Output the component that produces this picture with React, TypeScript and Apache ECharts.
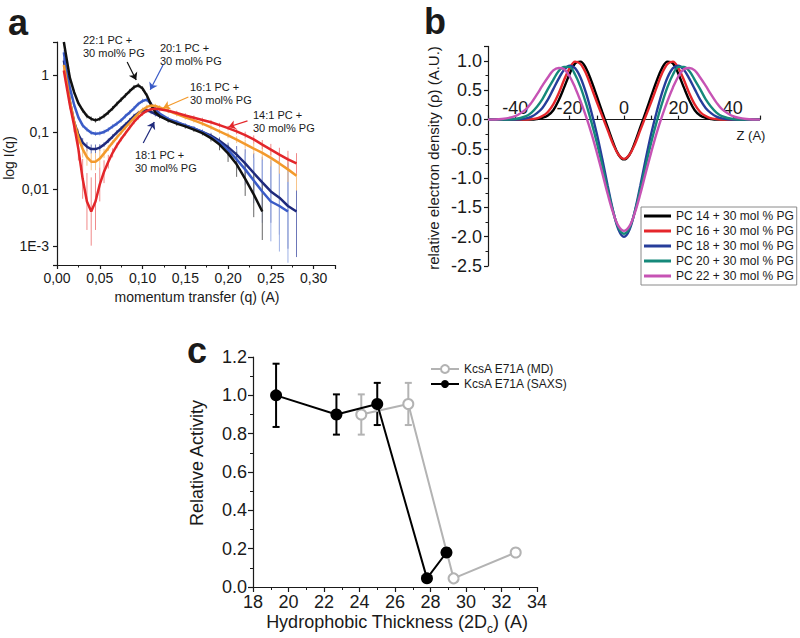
import React, { useEffect, useRef } from 'react';
import * as echarts from 'echarts';

const FONT = '"Liberation Sans", Arial, Helvetica, sans-serif';
const INK = '#1a1a1a';

// ---------- Panel a : SAXS curves ----------
const qA = [0.008, 0.01, 0.015, 0.02, 0.025, 0.03, 0.035, 0.04, 0.045, 0.05, 0.055, 0.06, 0.065, 0.07, 0.075, 0.08, 0.085, 0.09, 0.095, 0.10, 0.105, 0.11, 0.115, 0.12, 0.13, 0.14, 0.15, 0.16, 0.17, 0.18, 0.19, 0.20, 0.21, 0.22, 0.23, 0.24, 0.25, 0.26, 0.27, 0.28];
const I22 = [3.8, 2.5, 0.9, 0.5, 0.32, 0.24, 0.19, 0.17, 0.16, 0.17, 0.19, 0.22, 0.26, 0.31, 0.37, 0.44, 0.52, 0.61, 0.66, 0.58, 0.44, 0.3, 0.22, 0.19, 0.16, 0.14, 0.125, 0.11, 0.095, 0.078, 0.06, 0.042, 0.027, 0.015, 0.008, 0.004, null, null, null, null];
const I20 = [2.5, 1.5, 0.6, 0.3, 0.18, 0.13, 0.11, 0.097, 0.093, 0.095, 0.1, 0.11, 0.125, 0.14, 0.16, 0.19, 0.22, 0.26, 0.31, 0.35, 0.37, 0.31, 0.25, 0.21, 0.17, 0.15, 0.13, 0.115, 0.1, 0.082, 0.065, 0.048, 0.033, 0.022, 0.014, 0.009, 0.006, 0.005, 0.004, null];
const I18 = [1.8, 1.2, 0.35, 0.15, 0.09, 0.065, 0.055, 0.05, 0.05, 0.053, 0.06, 0.07, 0.083, 0.098, 0.115, 0.135, 0.16, 0.19, 0.215, 0.235, 0.24, 0.225, 0.205, 0.19, 0.165, 0.145, 0.13, 0.115, 0.1, 0.086, 0.07, 0.054, 0.04, 0.028, 0.019, 0.013, 0.009, 0.007, 0.005, 0.004];
const I16 = [1.5, 1.0, 0.35, 0.15, 0.08, 0.05, 0.036, 0.03, 0.03, 0.034, 0.042, 0.052, 0.065, 0.08, 0.098, 0.12, 0.145, 0.175, 0.21, 0.245, 0.275, 0.29, 0.285, 0.27, 0.235, 0.205, 0.18, 0.16, 0.14, 0.12, 0.102, 0.087, 0.073, 0.061, 0.051, 0.043, 0.035, 0.028, 0.022, 0.017];
const I14 = [1.2, 0.8, 0.3, 0.13, 0.05, 0.015, 0.006, 0.004, 0.006, 0.012, 0.02, 0.03, 0.043, 0.058, 0.075, 0.095, 0.12, 0.15, 0.18, 0.21, 0.235, 0.25, 0.255, 0.25, 0.235, 0.215, 0.195, 0.178, 0.162, 0.148, 0.132, 0.117, 0.102, 0.088, 0.074, 0.06, 0.049, 0.04, 0.033, 0.028];
// error bar half-widths in decades
const E22 = [0.04, 0.04, 0.04, 0.04, 0.04, 0.04, 0.04, 0.04, 0.04, 0.04, 0.04, 0.04, 0.04, 0.04, 0.04, 0.04, 0.04, 0.04, 0.04, 0.04, 0.04, 0.04, 0.04, 0.04, 0.04, 0.04, 0.04, 0.04, 0.04, 0.06, 0.1, 0.15, 0.22, 0.3, 0.4, 0.5, null, null, null, null];
const E20 = [0.04, 0.04, 0.04, 0.04, 0.04, 0.04, 0.04, 0.04, 0.04, 0.04, 0.04, 0.04, 0.04, 0.04, 0.04, 0.04, 0.04, 0.04, 0.04, 0.04, 0.04, 0.04, 0.04, 0.04, 0.04, 0.04, 0.04, 0.04, 0.04, 0.05, 0.06, 0.1, 0.18, 0.28, 0.4, 0.55, 0.7, 0.8, 0.9, null];
const E18 = [0.04, 0.04, 0.04, 0.04, 0.06, 0.08, 0.08, 0.08, 0.08, 0.06, 0.04, 0.04, 0.04, 0.04, 0.04, 0.04, 0.04, 0.04, 0.04, 0.04, 0.04, 0.04, 0.04, 0.04, 0.04, 0.04, 0.04, 0.04, 0.04, 0.05, 0.06, 0.08, 0.15, 0.25, 0.35, 0.45, 0.55, 0.65, 0.75, 0.8];
const E16 = [0.04, 0.04, 0.05, 0.08, 0.15, 0.15, 0.15, 0.15, 0.15, 0.15, 0.08, 0.05, 0.04, 0.04, 0.04, 0.04, 0.04, 0.04, 0.04, 0.04, 0.04, 0.04, 0.04, 0.04, 0.04, 0.04, 0.04, 0.04, 0.04, 0.04, 0.04, 0.05, 0.06, 0.08, 0.1, 0.12, 0.15, 0.18, 0.22, 0.26];
const E14 = [0.04, 0.05, 0.08, 0.12, 0.2, 0.35, 0.5, 0.6, 0.5, 0.3, 0.2, 0.12, 0.08, 0.05, 0.04, 0.04, 0.04, 0.04, 0.04, 0.04, 0.04, 0.04, 0.04, 0.04, 0.04, 0.04, 0.04, 0.04, 0.04, 0.04, 0.04, 0.04, 0.05, 0.06, 0.07, 0.08, 0.1, 0.12, 0.15, 0.18];
const yTickLabelsA = ['1E-3', '0,01', '0,1', '1']; // decades -3..0

// ---------- Panel b : electron density profiles ----------
const zB = [-50, -45, -40, -36, -34, -32, -30, -28, -26, -24, -22, -20, -18, -16, -14, -12, -10, -8, -6, -4, -2, 0, 2, 4, 6, 8, 10, 12, 14, 16, 18, 20, 22, 24, 26, 28, 30, 32, 34, 36, 40, 45, 50];
const rho14 = [0, 0, 0, 0, 0, 0.01, 0.03, 0.07, 0.16, 0.33, 0.55, 0.78, 0.96, 0.99, 0.88, 0.66, 0.40, 0.13, -0.13, -0.39, -0.60, -0.68, -0.60, -0.39, -0.13, 0.13, 0.40, 0.66, 0.88, 0.99, 0.96, 0.78, 0.55, 0.33, 0.16, 0.07, 0.03, 0.01, 0, 0, 0, 0, 0];
const rho16 = [0, 0, 0, 0, 0.01, 0.02, 0.06, 0.13, 0.26, 0.45, 0.68, 0.88, 0.99, 0.95, 0.79, 0.55, 0.30, 0.06, -0.18, -0.42, -0.60, -0.67, -0.60, -0.42, -0.18, 0.06, 0.30, 0.55, 0.79, 0.95, 0.99, 0.88, 0.68, 0.45, 0.26, 0.13, 0.06, 0.02, 0.01, 0, 0, 0, 0];
const rho18 = [0, 0, 0, 0.02, 0.05, 0.11, 0.20, 0.34, 0.52, 0.70, 0.85, 0.92, 0.88, 0.72, 0.46, 0.13, -0.24, -0.67, -1.13, -1.56, -1.88, -2.00, -1.88, -1.56, -1.13, -0.67, -0.24, 0.13, 0.46, 0.72, 0.88, 0.92, 0.85, 0.70, 0.52, 0.34, 0.20, 0.11, 0.05, 0.02, 0, 0, 0];
const rho20 = [0, 0, 0.01, 0.06, 0.12, 0.22, 0.35, 0.52, 0.68, 0.83, 0.90, 0.90, 0.77, 0.56, 0.28, -0.04, -0.39, -0.78, -1.19, -1.57, -1.85, -1.95, -1.85, -1.57, -1.19, -0.78, -0.39, -0.04, 0.28, 0.56, 0.77, 0.90, 0.90, 0.83, 0.68, 0.52, 0.35, 0.22, 0.12, 0.06, 0.01, 0, 0];
const rho22 = [0, 0.01, 0.06, 0.18, 0.29, 0.43, 0.58, 0.72, 0.84, 0.88, 0.86, 0.74, 0.55, 0.32, 0.06, -0.23, -0.56, -0.91, -1.27, -1.59, -1.82, -1.90, -1.82, -1.59, -1.27, -0.91, -0.56, -0.23, 0.06, 0.32, 0.55, 0.74, 0.86, 0.88, 0.84, 0.72, 0.58, 0.43, 0.29, 0.18, 0.06, 0.01, 0];
const namesB = ['PC 14 + 30 mol % PG', 'PC 16 + 30 mol % PG', 'PC 18 + 30 mol % PG', 'PC 20 + 30 mol % PG', 'PC 22 + 30 mol % PG'];

// ---------- Panel c : relative activity ----------
const xMD = [24.1, 26.75, 29.3, 32.8];
const yMD = [0.9, 0.955, 0.045, 0.18];
const eMD = [0.105, 0.11, 0, 0];
const xSAXS = [19.3, 22.7, 25.0, 27.8, 28.9];
const ySAXS = [1.0, 0.9, 0.955, 0.045, 0.18];
const eSAXS = [0.165, 0.105, 0.11, 0, 0.02];

const axisLineStyle = { color: INK, width: 1.2 };

// panel b geometry (y range -2.5..1.25 mapped to the grid)
const B_TOP = 46.4;
const B_HEIGHT = 219.6;
const B_YMIN = -2.5;
const B_YMAX = 1.25;

function buildOption(): any {
  const seriesA = [
    { key: '18:1', data: I18, err: E18, color: '#1f2a7c', errColor: '#6c76b8', arrow: [[0.1008, 0.064], [0.1137, 0.15]] },
    { key: '20:1', data: I20, err: E20, color: '#3a5bc7', errColor: '#9fb2e6', arrow: [[0.124, 1.5], [0.109, 0.55]] },
    { key: '22:1', data: I22, err: E22, color: '#111111', errColor: '#666666', arrow: [[0.082, 1.69], [0.0926, 0.82]] },
    { key: '16:1', data: I16, err: E16, color: '#f39a2c', errColor: '#f7c48a', arrow: [[0.1536, 0.41], [0.124, 0.264]] },
    { key: '14:1', data: I14, err: E14, color: '#e3262a', errColor: '#f08a8a', arrow: [[0.2227, 0.156], [0.2005, 0.122]] },
  ];

  const series: any[] = [];
  seriesA.forEach((s) => {
    const bars: any[] = [];
    qA.forEach((q, i) => {
      const v = s.data[i];
      const e = s.err[i];
      if (v == null || e == null) return;
      const f = Math.pow(10, e);
      bars.push([q, v / f, v * f]);
    });
    series.push({
      type: 'custom', xAxisIndex: 0, yAxisIndex: 0, clip: true, silent: true, z: 1,
      data: bars, encode: { x: 0, y: [1, 2] },
      renderItem: (_p: any, api: any) => {
        const a = api.coord([api.value(0), api.value(1)]);
        const b = api.coord([api.value(0), api.value(2)]);
        return { type: 'line', shape: { x1: a[0], y1: a[1], x2: b[0], y2: b[1] }, style: { stroke: s.errColor, lineWidth: 1 } };
      },
    });
  });
  seriesA.forEach((s) => {
    const pts: any[] = [];
    qA.forEach((q, i) => { if (s.data[i] != null) pts.push([q, s.data[i]]); });
    series.push({
      type: 'line', name: s.key, xAxisIndex: 0, yAxisIndex: 0, data: pts, symbol: 'none', z: 3,
      lineStyle: { color: s.color, width: 2.5 }, itemStyle: { color: s.color },
      markLine: {
        silent: true, symbol: ['none', 'arrow'], symbolSize: 7, label: { show: false },
        lineStyle: { color: s.color, width: 1.2, type: 'solid' },
        data: [[{ coord: s.arrow[0] }, { coord: s.arrow[1] }]],
      },
    });
  });

  const colorsB = ['#000000', '#e5262b', '#263d9a', '#15897a', '#c653b4'];
  [rho14, rho16, rho18, rho20, rho22].forEach((arr, k) => {
    series.push({
      type: 'line', name: namesB[k], xAxisIndex: 1, yAxisIndex: 1, symbol: 'none', smooth: 0.35,
      data: zB.map((z, i) => [z, arr[i]]),
      lineStyle: { color: colorsB[k], width: 2.4 }, itemStyle: { color: colorsB[k] },
    });
  });

  const errC = (xs: number[], ys: number[], es: number[], color: string) => ({
    type: 'custom', xAxisIndex: 2, yAxisIndex: 2, silent: true, z: 2,
    data: xs.map((x, i) => [x, ys[i], es[i]]).filter((d) => d[2] > 0),
    encode: { x: 0, y: 1 },
    renderItem: (_p: any, api: any) => {
      const x = api.value(0), y = api.value(1), e = api.value(2);
      const t = api.coord([x, y + e]);
      const b = api.coord([x, y - e]);
      const w = 3.5;
      const st = { stroke: color, lineWidth: 2 };
      return {
        type: 'group', children: [
          { type: 'line', shape: { x1: t[0], y1: t[1], x2: b[0], y2: b[1] }, style: st },
          { type: 'line', shape: { x1: t[0] - w, y1: t[1], x2: t[0] + w, y2: t[1] }, style: st },
          { type: 'line', shape: { x1: b[0] - w, y1: b[1], x2: b[0] + w, y2: b[1] }, style: st },
        ],
      };
    },
  });
  series.push(errC(xMD, yMD, eMD, '#b3b3b3'));
  series.push({
    type: 'line', name: 'KcsA E71A (MD)', xAxisIndex: 2, yAxisIndex: 2, z: 3,
    data: xMD.map((x, i) => [x, yMD[i]]), symbol: 'circle', symbolSize: 10,
    lineStyle: { color: '#b3b3b3', width: 2 },
    itemStyle: { color: '#ffffff', borderColor: '#b3b3b3', borderWidth: 2 },
  });
  series.push(errC(xSAXS, ySAXS, eSAXS, '#000000'));
  series.push({
    type: 'line', name: 'KcsA E71A (SAXS)', xAxisIndex: 2, yAxisIndex: 2, z: 4,
    data: xSAXS.map((x, i) => [x, ySAXS[i]]), symbol: 'circle', symbolSize: 12,
    lineStyle: { color: '#000000', width: 2 },
    itemStyle: { color: '#000000', borderColor: '#000000', borderWidth: 0 },
  });

  const lbl = (size: number) => ({ fontFamily: FONT, fontSize: size, color: INK });

  const txt = (text: string, x: number, y: number, size: number, opts: any = {}) => ({
    type: 'text', x, y, rotation: opts.rotation || 0, silent: true,
    style: {
      text, fontFamily: FONT, fontSize: size, fontWeight: opts.bold ? 'bold' : 'normal', fill: INK,
      textAlign: opts.align || 'left', textVerticalAlign: 'middle', rich: opts.rich,
    },
  });

  const graphic = [
    txt('a', 8, 22, 36, { bold: true }),
    txt('b', 424, 21, 36, { bold: true }),
    txt('c', 187, 350, 36, { bold: true }),
    // panel a
    txt('log I(q)', 9, 158, 14, { align: 'center', rotation: Math.PI / 2 }),
    txt('momentum transfer (q) (A)', 197, 297, 14, { align: 'center' }),
    txt('22:1 PC +', 83, 40, 11), txt('30 mol% PG', 83, 53, 11),
    txt('20:1 PC +', 160, 48, 11), txt('30 mol% PG', 160, 61, 11),
    txt('16:1 PC +', 190, 87, 11), txt('30 mol% PG', 190, 100, 11),
    txt('14:1 PC +', 253, 115, 11), txt('30 mol% PG', 253, 128, 11),
    txt('18:1 PC +', 135, 155, 11), txt('30 mol% PG', 135, 168, 11),
    // panel b
    txt('relative electron density (ρ) (A.U.)', 433, 158, 15, { align: 'center', rotation: Math.PI / 2 }),
    txt('Z (A)', 751, 135, 13, { align: 'center' }),
    // panel c
    txt('Relative Activity', 197, 463, 18, { align: 'center', rotation: Math.PI / 2 }),
    txt('Hydrophobic Thickness (2D{s|c}) (A)', 397, 622, 18, {
      align: 'center',
      rich: { s: { fontFamily: FONT, fontSize: 12, fill: INK, lineHeight: 26, verticalAlign: 'bottom' } },
    }),
  ];

  const zeroY = B_TOP + (B_YMAX / (B_YMAX - B_YMIN)) * B_HEIGHT;

  return {
    animation: false,
    backgroundColor: '#ffffff',
    textStyle: { fontFamily: FONT },
    grid: [
      { left: 57, top: 42, width: 278, height: 223 },
      { left: 488, top: B_TOP, width: 272, height: B_HEIGHT },
      { left: 253, top: 357, width: 284, height: 230 },
      // thin grid that carries panel b's visible z axis along the zero line
      { left: 488, top: zeroY, width: 272, height: 1 },
    ],
    xAxis: [
      {
        gridIndex: 0, type: 'value', min: 0, max: 0.325, interval: 0.05,
        axisLine: { onZero: false, lineStyle: axisLineStyle },
        axisTick: { length: 4, lineStyle: axisLineStyle },
        minorTick: { show: true, splitNumber: 2, length: 2.5, lineStyle: { color: INK } },
        splitLine: { show: false },
        axisLabel: {
          ...lbl(14), margin: 6, showMaxLabel: true,
          formatter: (v: number) => {
            const k = Math.round(v / 0.05);
            return Math.abs(v - k * 0.05) > 1e-9 ? '' : v.toFixed(2).replace('.', ',');
          },
        },
      },
      {
        gridIndex: 1, type: 'value', min: -50, max: 50, interval: 10, show: false,
        axisLine: { onZero: false }, splitLine: { show: false },
      },
      {
        gridIndex: 2, type: 'value', min: 18, max: 34, interval: 2,
        axisLine: { onZero: false, lineStyle: axisLineStyle },
        axisTick: { length: 5, lineStyle: axisLineStyle },
        minorTick: { show: true, splitNumber: 2, length: 3, lineStyle: { color: INK } },
        splitLine: { show: false },
        axisLabel: { ...lbl(18), margin: 6 },
      },
      {
        gridIndex: 3, type: 'value', min: -50, max: 50, interval: 10, position: 'top',
        axisLine: { onZero: false, lineStyle: axisLineStyle },
        axisTick: { length: 4, lineStyle: axisLineStyle },
        splitLine: { show: false },
        axisLabel: {
          ...lbl(18), margin: 3,
          formatter: (v: number) => (Math.round(v) % 20 === 0 ? String(Math.round(v)) : ''),
        },
      },
    ],
    yAxis: [
      {
        gridIndex: 0, type: 'log', logBase: 10, min: 0.00046, max: 3.8,
        axisLine: { onZero: false, lineStyle: axisLineStyle },
        axisTick: { length: 4, lineStyle: axisLineStyle },
        splitLine: { show: false },
        axisLabel: {
          ...lbl(14), margin: 8,
          formatter: (v: number) => {
            const e = Math.log10(v);
            const r = Math.round(e);
            if (Math.abs(e - r) > 1e-6 || r < -3 || r > 0) return '';
            return yTickLabelsA[r + 3];
          },
        },
      },
      {
        gridIndex: 1, type: 'value', min: B_YMIN, max: B_YMAX, interval: 0.5,
        axisLine: { onZero: false, lineStyle: axisLineStyle },
        axisTick: { length: 4, lineStyle: axisLineStyle },
        minorTick: { show: true, splitNumber: 2, length: 2.5, lineStyle: { color: INK } },
        splitLine: { show: false },
        axisLabel: {
          ...lbl(18), margin: 6,
          formatter: (v: number) => (Math.abs(v - 1.25) < 1e-9 ? '' : v.toFixed(1)),
        },
      },
      {
        gridIndex: 2, type: 'value', min: 0, max: 1.2, interval: 0.2,
        axisLine: { onZero: false, lineStyle: axisLineStyle },
        axisTick: { length: 5, lineStyle: axisLineStyle },
        minorTick: { show: true, splitNumber: 2, length: 3, lineStyle: { color: INK } },
        splitLine: { show: false },
        axisLabel: { ...lbl(18), margin: 6, formatter: (v: number) => v.toFixed(1) },
      },
      {
        gridIndex: 3, type: 'value', min: 0, max: 1, show: false,
        axisLine: { onZero: false }, splitLine: { show: false },
      },
    ],
    legend: [
      {
        data: namesB.map((n) => ({ name: n, icon: 'rect' })), orient: 'vertical', left: 641, top: 207, padding: [2, 3],
        itemWidth: 27, itemHeight: 3, itemGap: 1,
        borderColor: '#8a8a8a', borderWidth: 1,
        textStyle: { fontFamily: FONT, fontSize: 12, color: INK, lineHeight: 14 },
      },
      {
        data: ['KcsA E71A (MD)', 'KcsA E71A (SAXS)'], orient: 'vertical', left: 430, top: 363, padding: 0,
        itemWidth: 28, itemHeight: 10, itemGap: 3,
        textStyle: { fontFamily: FONT, fontSize: 12, color: INK },
      },
    ],
    graphic,
    series,
  };
}

export default function App() {
  const ref = useRef<HTMLDivElement>(null);
  useEffect(() => {
    const chart = echarts.init(ref.current!, null, { renderer: 'svg' });
    chart.setOption(buildOption());
    return () => chart.dispose();
  }, []);
  return <div ref={ref} style={{ position: 'absolute', left: 0, top: 0, width: 800, height: 638, background: '#fff' }} />;
}
